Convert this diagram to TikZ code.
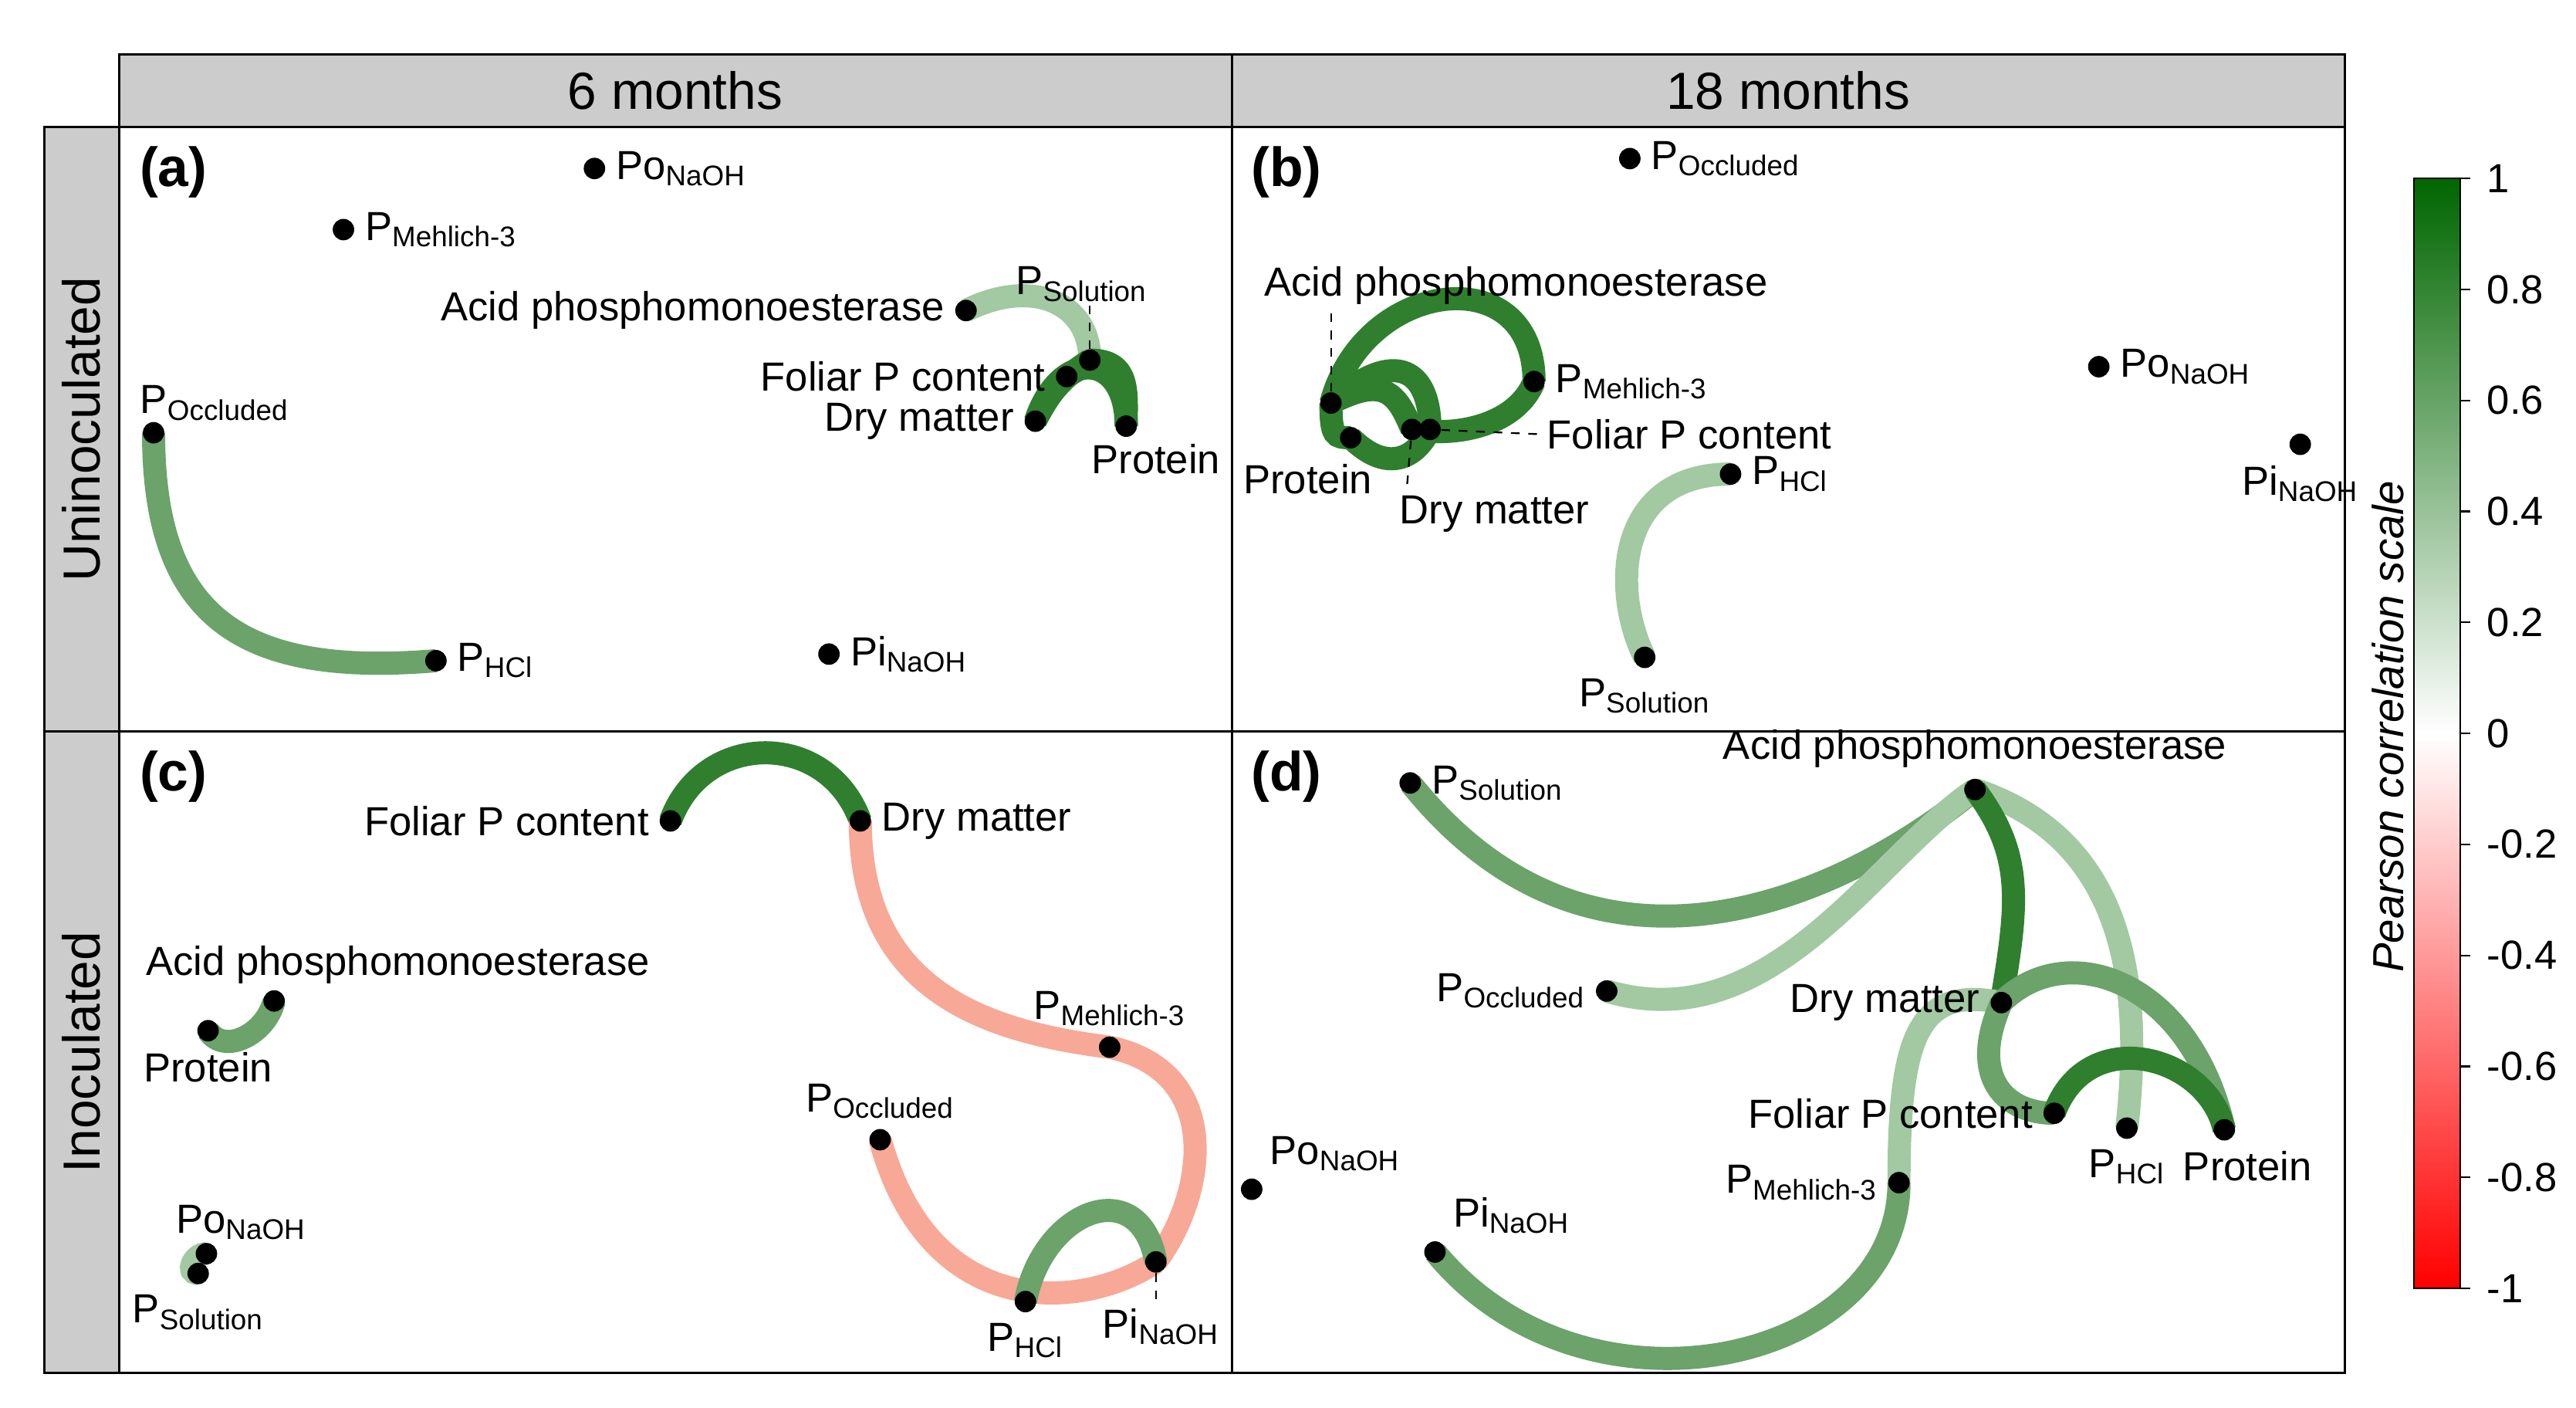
\documentclass[tikz,border=0pt]{standalone}
\usepackage{fontspec}
\setmainfont{Liberation Sans}
\definecolor{cdk}{HTML}{2F7F2F}
\definecolor{cmd}{HTML}{6BA36B}
\definecolor{clt}{HTML}{A2C9A2}
\definecolor{cpk}{HTML}{F7A897}
\begin{document}
\begin{tikzpicture}[x=0.02cm,y=-0.02cm,
  every node/.style={font=\fontsize{14}{16}\selectfont},
  dot/.style={circle,fill=black,inner sep=0pt,minimum size=0.26cm},
  band/.style={line width=0.28cm},
  dk/.style={band,draw=cdk},
  md/.style={band,draw=cmd},
  lt/.style={band,draw=clt},
  pk/.style={band,draw=cpk},
  hdr/.style={draw=black,fill=black!20,line width=0.8pt},
  pan/.style={draw=black,line width=0.8pt},
  lbl/.style={font=\fontsize{19}{22}\selectfont\bfseries},
  dsh/.style={dashed,line width=0.6pt}]
\useasboundingbox (0,0) rectangle (1560,852);
% headers
\draw[hdr] (72,33) rectangle (746,77);
\draw[hdr] (746,33) rectangle (1420,77);
\node[font=\fontsize{18}{20}\selectfont] (t1) at (409,55) {6 months};
\node[font=\fontsize{18}{20}\selectfont] (t2) at (1083,55) {18 months};
\draw[hdr] (27,77) rectangle (72,443);
\draw[hdr] (27,443) rectangle (72,831);
\node[rotate=90,font=\fontsize{18}{20}\selectfont] (t3) at (49,260) {Uninoculated};
\node[rotate=90,font=\fontsize{18}{20}\selectfont] (t4) at (49,637) {Inoculated};
\draw[pan] (72,77) rectangle (1420,831);
\draw[pan] (746,77) -- (746,831);
\draw[pan] (72,443) -- (1420,443);
\node[lbl] (la) at (105,104) {(a)};
\node[lbl] (lb) at (779,104) {(b)};
\node[lbl] (lc) at (105,470) {(c)};
\node[lbl] (ld) at (779,470) {(d)};
% ---- (a)
\coordinate (aPo) at (360,102); \coordinate (aPM) at (208,139);
\coordinate (aAc) at (585,188); \coordinate (aPS) at (660,218);
\coordinate (aFo) at (646,228); \coordinate (aDr) at (627,255);
\coordinate (aPr) at (682,258); \coordinate (aPOc) at (93,262);
\coordinate (aPH) at (264,400); \coordinate (aPi) at (502,396);
\draw[md] (aPOc) .. controls +(0,110) and +(-120,10) .. (aPH);
\draw[lt] (aAc) .. controls +(40,-20) and +(0,-35) .. (aPS);
\draw[dk] (aDr) .. controls +(15,-45) and +(0,-45) .. (aPr);
\draw[dk] (aFo) .. controls +(30,-20) and +(0,-30) .. (aPr);
\draw[dk] (aPS) .. controls +(25,0) and +(0,-20) .. (aPr);
\draw[dk] (aDr) .. controls +(10,-20) and +(-15,10) .. (aPS);
\node[dot,label={right:Po\textsubscript{NaOH}}] (nPo) at (aPo) {};
\node[dot,label={right:P\textsubscript{Mehlich-3}}] (nPM) at (aPM) {};
\node[dot,label={left:Acid phosphomonoesterase}] (nAc) at (aAc) {};
\node[dot] (nPS) at (aPS) {};
\node (tPS) at (655,172) {P\textsubscript{Solution}};
\draw[dsh] (nPS) -- (660,185);
\node[dot,label={left:Foliar P content}] (nFo) at (aFo) {};
\node[dot,label={left:Dry matter}] (nDr) at (aDr) {};
\node[dot] (nPr) at (aPr) {};
\node (tPr) at (700,278) {Protein};
\node[dot] (nPOc) at (aPOc) {};
\node (tPOc) at (130,244) {P\textsubscript{Occluded}};
\node[dot,label={right:P\textsubscript{HCl}}] (nPH) at (aPH) {};
\node[dot,label={right:Pi\textsubscript{NaOH}}] (nPi) at (aPi) {};
% ---- (b)
\coordinate (bPOc) at (987,96); \coordinate (bAc) at (806,244);
\coordinate (bPM) at (929,231); \coordinate (bPr) at (818,265);
\coordinate (bDr) at (855,260); \coordinate (bFo) at (866,260);
\coordinate (bPH) at (1048,287); \coordinate (bPS) at (996,398);
\coordinate (bPo) at (1271,222); \coordinate (bPi) at (1393,269);
\draw[dk] (bAc) .. controls +(20,-75) and +(0,-75) .. (bPM);
\draw[dk] (bDr) .. controls +(30,5) and +(-10,25) .. (bPM);
\draw[dk] (bAc) .. controls +(30,-15) and +(-10,-25) .. (bDr);
\draw[dk] (bAc) .. controls +(0,20) and +(-10,0) .. (bPr);
\draw[dk] (bPr) .. controls +(20,20) and +(-10,20) .. (bFo);
\draw[dk] (bAc) .. controls +(40,-35) and +(0,-35) .. (bFo);
\draw[lt] (bPH) .. controls +(-70,0) and +(-20,-40) .. (bPS);
\node[dot,label={right:P\textsubscript{Occluded}}] (mPOc) at (bPOc) {};
\node[dot] (mAc) at (bAc) {};
\node (tAc) at (918,173) {Acid phosphomonoesterase};
\draw[dsh] (mAc) -- (806,188);
\node[dot,label={right:P\textsubscript{Mehlich-3}}] (mPM) at (bPM) {};
\node[dot] (mPr) at (bPr) {};
\node (tbPr) at (792,290) {Protein};
\node[dot] (mDr) at (bDr) {};
\node (tDr) at (905,311) {Dry matter};
\draw[dsh] (mDr) -- (852,295);
\node[dot] (mFo) at (bFo) {};
\node (tFo) at (1023,263) {Foliar P content};
\draw[dsh] (mFo) -- (935,263);
\node[dot,label={right:P\textsubscript{HCl}}] (mPH) at (bPH) {};
\node[dot,label={below:P\textsubscript{Solution}}] (mPS) at (bPS) {};
\node[dot,label={right:Po\textsubscript{NaOH}}] (mPo) at (bPo) {};
\node[dot,label={below:Pi\textsubscript{NaOH}}] (mPi) at (bPi) {};
% ---- (c)
\coordinate (cFo) at (406,497); \coordinate (cDr) at (521,497);
\coordinate (cAc) at (166,606); \coordinate (cPr) at (126,624);
\coordinate (cPo) at (125,759); \coordinate (cPS) at (120,771);
\coordinate (cPM) at (672,634); \coordinate (cPOc) at (533,690);
\coordinate (cPH) at (621,788); \coordinate (cPi) at (700,764);
\draw[dk] (cFo) .. controls +(20,-55) and +(-20,-55) .. (cDr);
\draw[md] (cPr) .. controls +(10,15) and +(-5,20) .. (cAc);
\draw[lt] (cPo) .. controls +(-8,0) and +(-8,0) .. (cPS);
\draw[pk] (cDr) .. controls +(0,100) and +(-80,-10) .. (cPM);
\draw[pk] (cPM) .. controls +(70,15) and +(30,-40) .. (cPi);
\draw[pk] (cPOc) .. controls +(30,110) and +(-45,30) .. (cPi);
\draw[md] (cPH) .. controls +(10,-55) and +(-10,-55) .. (cPi);
\node[dot,label={left:Foliar P content}] (oFo) at (cFo) {};
\node[dot,label={right:Dry matter}] (oDr) at (cDr) {};
\node[dot] (oAc) at (cAc) {};
\node (tcAc) at (241,584) {Acid phosphomonoesterase};
\node[dot,label={below:Protein}] (oPr) at (cPr) {};
\node[dot] (oPo) at (cPo) {};
\node (tcPo) at (146,740) {Po\textsubscript{NaOH}};
\node[dot,label={below:P\textsubscript{Solution}}] (oPS) at (cPS) {};
\node[dot,label={above:P\textsubscript{Mehlich-3}}] (oPM) at (cPM) {};
\node[dot,label={above:P\textsubscript{Occluded}}] (oPOc) at (cPOc) {};
\node[dot,label={below:P\textsubscript{HCl}}] (oPH) at (cPH) {};
\node[dot] (oPi) at (cPi) {};
\node (tcPi) at (703,803) {Pi\textsubscript{NaOH}};
\draw[dsh] (oPi) -- (700,790);
% ---- (d)
\coordinate (dPS) at (854,474); \coordinate (dAc) at (1196,478);
\coordinate (dPOc) at (973,600); \coordinate (dDr) at (1212,607);
\coordinate (dFo) at (1244,674); \coordinate (dPH) at (1288,683);
\coordinate (dPr) at (1347,684); \coordinate (dPM) at (1150,716);
\coordinate (dPo) at (758,720); \coordinate (dPi) at (869,758);
\draw[md] (dPS) .. controls +(120,150) and +(-60,50) .. (dAc);
\draw[lt] (dPOc) .. controls +(100,30) and +(-60,40) .. (dAc);
\draw[lt] (dAc) .. controls +(90,30) and +(10,-90) .. (dPH);
\draw[dk] (dAc) .. controls +(30,40) and +(10,-60) .. (dDr);
\draw[lt] (dPM) .. controls +(0,-90) and +(-50,-10) .. (dDr);
\draw[md] (dPi) .. controls +(90,110) and +(0,110) .. (dPM);
\draw[md] (dDr) .. controls +(40,-40) and +(-20,-90) .. (dPr);
\draw[md] (dDr) .. controls +(-20,45) and +(-30,0) .. (dFo);
\draw[dk] (dFo) .. controls +(20,-55) and +(-10,-45) .. (dPr);
\node[dot,label={right:P\textsubscript{Solution}}] (pPS) at (dPS) {};
\node[dot,label={above:Acid phosphomonoesterase}] (pAc) at (dAc) {};
\node[dot,label={left:P\textsubscript{Occluded}}] (pPOc) at (dPOc) {};
\node[dot,label={left:Dry matter}] (pDr) at (dDr) {};
\node[dot,label={left:Foliar P content}] (pFo) at (dFo) {};
\node[dot,label={below:P\textsubscript{HCl}}] (pPH) at (dPH) {};
\node[dot,label={[xshift=8pt]below:Protein}] (pPr) at (dPr) {};
\node[dot,label={left:P\textsubscript{Mehlich-3}}] (pPM) at (dPM) {};
\node[dot,label={above right:Po\textsubscript{NaOH}}] (pPo) at (dPo) {};
\node[dot,label={above right:Pi\textsubscript{NaOH}}] (pPi) at (dPi) {};
% colorbar
\shade[top color=green!40!black,bottom color=white] (1462,108) rectangle (1490,444);
\shade[top color=white,bottom color=red] (1462,444) rectangle (1490,780);
\draw[line width=0.6pt] (1462,108) rectangle (1490,780);
\foreach \v [count=\i from 0] in {1,0.8,0.6,0.4,0.2,0,-0.2,-0.4,-0.6,-0.8,-1}{
  \draw[line width=0.6pt] (1490,108+67.2*\i) -- (1496,108+67.2*\i);
  \node[anchor=west] at (1500,108+67.2*\i) {\v};
}
\node[rotate=90,font=\fontsize{15}{18}\selectfont\itshape] (cb) at (1446,440) {Pearson correlation scale};
\end{tikzpicture}
\end{document}
